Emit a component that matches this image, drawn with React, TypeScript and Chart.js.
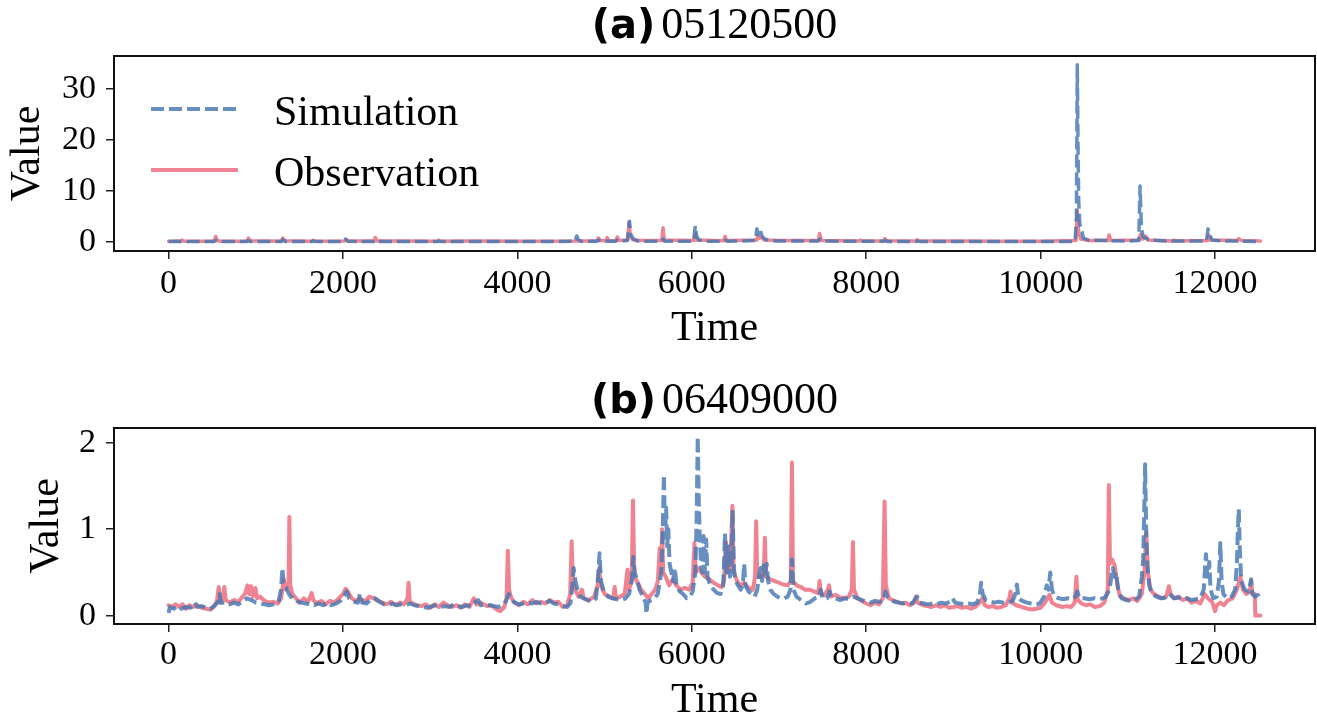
import React, { useEffect, useRef } from "react";
import { Chart, registerables } from "chart.js";

Chart.register(...registerables);

// ---------- Data ----------
const SERIES_LABELS = ["Simulation", "Observation"];
const X_TICKS = [0, 2000, 4000, 6000, 8000, 10000, 12000];
const Y_TICKS_A = [0, 10, 20, 30];
const Y_TICKS_B = [0, 1, 2];
const PANEL_A = ["(a)", "05120500"];
const PANEL_B = ["(b)", "06409000"];

// Panel (a) 05120500
const simATime = [0, 120, 150, 520, 540, 570, 890, 910, 940, 1290, 1310, 1340, 1640, 1660, 1690, 2010, 2030, 2060, 2350, 2370, 2400, 3080, 3100, 3130, 4000, 4660, 4680, 4700, 4740, 4900, 4930, 4960, 5120, 5145, 5170, 5260, 5285, 5300, 5330, 5380, 5650, 5670, 5690, 6020, 6040, 6055, 6080, 6150, 6370, 6385, 6410, 6730, 6745, 6765, 6785, 6810, 6850, 6920, 7000, 7450, 7470, 7500, 8200, 8220, 8250, 8570, 8590, 8620, 9000, 10000, 10395, 10410, 10420, 10428, 10436, 10450, 10470, 10490, 10550, 10780, 10800, 10830, 11000, 11125, 11140, 11155, 11175, 11250, 11500, 11900, 11920, 11940, 11965, 12100, 12260, 12280, 12310, 12520];
const simAValue = [0.1, 0.15, 0.1, 0.1, 0.35, 0.1, 0.1, 0.3, 0.1, 0.1, 0.45, 0.1, 0.1, 0.25, 0.1, 0.1, 0.6, 0.15, 0.1, 0.35, 0.1, 0.1, 0.2, 0.1, 0.12, 0.15, 1.2, 0.4, 0.15, 0.15, 0.4, 0.15, 0.15, 0.4, 0.15, 0.3, 4.1, 1.5, 0.6, 0.2, 0.15, 0.6, 0.15, 0.2, 3.2, 1.2, 0.4, 0.2, 0.15, 0.35, 0.15, 0.3, 2.6, 1.5, 2.3, 1.0, 0.5, 0.3, 0.2, 0.2, 0.6, 0.2, 0.15, 0.3, 0.12, 0.12, 0.25, 0.1, 0.1, 0.1, 0.15, 5.0, 34.8, 20.0, 8.0, 3.5, 2.5, 0.8, 0.4, 0.3, 0.5, 0.25, 0.2, 0.3, 11.0, 3.0, 1.0, 0.4, 0.2, 0.25, 2.6, 1.5, 0.4, 0.2, 0.2, 0.35, 0.2, 0.1];
const obsATime = [0, 140, 155, 175, 520, 540, 560, 600, 900, 915, 935, 1290, 1310, 1335, 1640, 1655, 1680, 2015, 2030, 2055, 2355, 2370, 2390, 2700, 3085, 3100, 3120, 3500, 4000, 4665, 4680, 4700, 4915, 4930, 4950, 5015, 5030, 5050, 5130, 5145, 5165, 5265, 5280, 5295, 5320, 5400, 5655, 5670, 5685, 6025, 6040, 6060, 6365, 6380, 6400, 6745, 6760, 6780, 6800, 6830, 7000, 7450, 7466, 7485, 7915, 7930, 7950, 8200, 8213, 8235, 8570, 8583, 8605, 9000, 9500, 10000, 10405, 10420, 10435, 10460, 10550, 10770, 10785, 10805, 11130, 11146, 11170, 11204, 11230, 11515, 11530, 11550, 11915, 11930, 11950, 12255, 12270, 12300, 12520];
const obsAValue = [0.15, 0.15, 0.4, 0.15, 0.15, 1.1, 0.3, 0.15, 0.15, 0.8, 0.25, 0.15, 0.8, 0.25, 0.15, 0.35, 0.15, 0.2, 0.5, 0.2, 0.2, 0.9, 0.2, 0.2, 0.15, 0.4, 0.15, 0.2, 0.15, 0.2, 0.5, 0.2, 0.2, 0.8, 0.3, 0.25, 0.9, 0.3, 0.25, 1.0, 0.3, 0.4, 3.9, 1.2, 0.5, 0.3, 0.3, 2.8, 0.4, 0.3, 1.6, 0.4, 0.25, 1.1, 0.3, 0.4, 1.4, 0.8, 1.0, 0.4, 0.3, 0.3, 1.7, 0.3, 0.2, 0.4, 0.2, 0.2, 0.7, 0.25, 0.2, 0.45, 0.2, 0.2, 0.15, 0.15, 0.3, 6.2, 2.0, 0.6, 0.3, 0.3, 1.4, 0.3, 0.4, 1.6, 0.6, 1.2, 0.4, 0.2, 0.4, 0.2, 0.3, 1.4, 0.4, 0.3, 0.7, 0.3, 0.2];

// Panel (b) 06409000
const simBTime = [0, 15, 60, 100, 150, 200, 250, 300, 330, 380, 430, 480, 530, 570, 585, 600, 650, 700, 750, 800, 850, 900, 950, 1000, 1050, 1100, 1150, 1200, 1260, 1290, 1305, 1320, 1350, 1380, 1420, 1470, 1520, 1570, 1620, 1670, 1720, 1770, 1820, 1870, 1920, 1970, 2020, 2045, 2070, 2120, 2170, 2195, 2220, 2270, 2330, 2370, 2420, 2470, 2520, 2570, 2620, 2670, 2720, 2770, 2820, 2870, 2920, 2970, 3020, 3070, 3120, 3170, 3220, 3270, 3320, 3370, 3420, 3470, 3520, 3550, 3580, 3630, 3680, 3730, 3780, 3830, 3870, 3900, 3930, 3970, 4020, 4070, 4120, 4170, 4220, 4270, 4320, 4370, 4420, 4470, 4520, 4570, 4610, 4630, 4645, 4665, 4690, 4720, 4760, 4800, 4850, 4900, 4925, 4942, 4958, 4990, 5040, 5090, 5140, 5190, 5240, 5280, 5310, 5330, 5345, 5370, 5400, 5440, 5470, 5480, 5492, 5530, 5570, 5610, 5650, 5665, 5680, 5692, 5705, 5718, 5730, 5745, 5765, 5785, 5805, 5825, 5860, 5900, 5940, 5980, 6010, 6040, 6055, 6068, 6080, 6092, 6105, 6120, 6135, 6148, 6165, 6180, 6210, 6250, 6290, 6330, 6360, 6380, 6395, 6410, 6422, 6438, 6455, 6468, 6482, 6500, 6530, 6560, 6585, 6600, 6615, 6650, 6690, 6720, 6750, 6770, 6788, 6805, 6822, 6838, 6858, 6875, 6900, 6940, 6980, 7020, 7060, 7100, 7130, 7148, 7165, 7200, 7250, 7310, 7360, 7410, 7460, 7478, 7500, 7550, 7580, 7600, 7650, 7700, 7750, 7800, 7850, 7900, 7950, 8000, 8050, 8100, 8150, 8200, 8220, 8240, 8280, 8330, 8380, 8430, 8480, 8530, 8565, 8585, 8610, 8660, 8710, 8760, 8810, 8860, 8910, 8960, 8990, 9020, 9070, 9120, 9170, 9220, 9270, 9300, 9318, 9335, 9370, 9420, 9470, 9520, 9570, 9620, 9680, 9710, 9727, 9745, 9790, 9840, 9890, 9940, 9990, 10040, 10070, 10090, 10110, 10130, 10160, 10210, 10260, 10310, 10360, 10400, 10420, 10445, 10500, 10560, 10620, 10680, 10740, 10790, 10810, 10828, 10845, 10865, 10890, 10930, 10980, 11030, 11080, 11130, 11160, 11175, 11188, 11198, 11210, 11222, 11245, 11280, 11330, 11380, 11430, 11480, 11530, 11580, 11630, 11680, 11730, 11780, 11830, 11870, 11885, 11896, 11910, 11922, 11934, 11948, 11980, 12020, 12045, 12060, 12075, 12095, 12140, 12190, 12230, 12250, 12262, 12272, 12283, 12300, 12340, 12380, 12400, 12413, 12428, 12460, 12490, 12520];
const simBValue = [0.03, 0.1, 0.08, 0.11, 0.08, 0.1, 0.09, 0.15, 0.1, 0.11, 0.09, 0.08, 0.12, 0.16, 0.25, 0.15, 0.15, 0.13, 0.15, 0.13, 0.17, 0.2, 0.18, 0.15, 0.14, 0.13, 0.12, 0.13, 0.16, 0.3, 0.55, 0.35, 0.32, 0.25, 0.2, 0.17, 0.15, 0.14, 0.13, 0.12, 0.14, 0.12, 0.15, 0.12, 0.14, 0.17, 0.24, 0.28, 0.2, 0.16, 0.15, 0.25, 0.15, 0.14, 0.2, 0.2, 0.16, 0.13, 0.12, 0.14, 0.12, 0.13, 0.12, 0.14, 0.12, 0.11, 0.1, 0.09, 0.11, 0.12, 0.1, 0.11, 0.1, 0.13, 0.11, 0.1, 0.12, 0.11, 0.16, 0.18, 0.12, 0.13, 0.12, 0.11, 0.1, 0.12, 0.17, 0.25, 0.18, 0.15, 0.13, 0.14, 0.15, 0.14, 0.16, 0.14, 0.15, 0.17, 0.14, 0.13, 0.11, 0.1, 0.15, 0.35, 0.55, 0.4, 0.3, 0.22, 0.2, 0.18, 0.16, 0.2, 0.45, 0.72, 0.4, 0.28, 0.22, 0.2, 0.19, 0.18, 0.2, 0.25, 0.4, 0.68, 0.5, 0.42, 0.3, 0.22, 0.15, 0.02, 0.15, 0.18, 0.2, 0.25, 0.5, 0.9, 1.63, 0.9, 1.25, 0.8, 1.0, 0.6, 0.5, 0.4, 0.55, 0.35, 0.28, 0.25, 0.2, 0.22, 0.28, 0.5, 1.1, 2.07, 1.3, 0.9, 0.6, 0.5, 0.92, 0.5, 0.88, 0.45, 0.35, 0.3, 0.26, 0.25, 0.35, 0.95, 0.5, 0.6, 0.8, 0.45, 0.6, 1.22, 0.55, 0.4, 0.35, 0.3, 0.35, 0.6, 0.35, 0.28, 0.25, 0.22, 0.3, 0.45, 0.55, 0.4, 0.58, 0.45, 0.6, 0.4, 0.3, 0.25, 0.22, 0.2, 0.2, 0.22, 0.3, 0.65, 0.3, 0.22, 0.18, 0.14, 0.16, 0.2, 0.22, 0.3, 0.2, 0.2, 0.28, 0.22, 0.2, 0.18, 0.2, 0.19, 0.22, 0.2, 0.18, 0.16, 0.15, 0.17, 0.16, 0.18, 0.28, 0.22, 0.18, 0.16, 0.15, 0.14, 0.15, 0.14, 0.2, 0.22, 0.15, 0.14, 0.13, 0.14, 0.13, 0.15, 0.14, 0.16, 0.2, 0.15, 0.14, 0.13, 0.14, 0.13, 0.15, 0.22, 0.38, 0.25, 0.18, 0.16, 0.15, 0.16, 0.15, 0.15, 0.17, 0.25, 0.36, 0.2, 0.17, 0.15, 0.14, 0.13, 0.14, 0.22, 0.35, 0.3, 0.5, 0.3, 0.22, 0.2, 0.19, 0.2, 0.19, 0.22, 0.28, 0.2, 0.2, 0.19, 0.2, 0.19, 0.21, 0.3, 0.45, 0.55, 0.45, 0.5, 0.3, 0.2, 0.18, 0.17, 0.18, 0.22, 0.45, 0.65, 1.2, 1.75, 1.0, 0.6, 0.35, 0.25, 0.22, 0.2, 0.21, 0.25, 0.2, 0.21, 0.19, 0.2, 0.18, 0.19, 0.2, 0.3, 0.55, 0.71, 0.45, 0.5, 0.62, 0.3, 0.2, 0.22, 0.4, 0.84, 0.4, 0.25, 0.2, 0.22, 0.3, 0.6, 1.0, 1.23, 0.8, 0.4, 0.3, 0.28, 0.35, 0.42, 0.25, 0.22, 0.24, 0.2];
const obsBTime = [0, 40, 80, 120, 160, 200, 240, 280, 330, 380, 430, 480, 520, 555, 575, 590, 620, 640, 655, 700, 750, 800, 850, 880, 905, 925, 945, 965, 995, 1015, 1050, 1100, 1150, 1200, 1250, 1290, 1320, 1345, 1375, 1385, 1395, 1420, 1460, 1500, 1550, 1600, 1640, 1660, 1700, 1750, 1800, 1850, 1900, 1950, 2000, 2030, 2060, 2100, 2150, 2200, 2250, 2300, 2350, 2400, 2450, 2500, 2550, 2600, 2650, 2700, 2740, 2752, 2765, 2800, 2850, 2900, 2950, 3000, 3050, 3100, 3150, 3200, 3250, 3300, 3350, 3400, 3450, 3500, 3530, 3580, 3650, 3700, 3750, 3800, 3850, 3875, 3890, 3905, 3930, 3970, 4020, 4070, 4120, 4170, 4220, 4270, 4320, 4370, 4420, 4470, 4520, 4570, 4605, 4622, 4635, 4670, 4700, 4740, 4760, 4820, 4880, 4920, 4937, 4955, 5000, 5050, 5100, 5115, 5130, 5180, 5230, 5262, 5280, 5310, 5325, 5340, 5380, 5420, 5460, 5500, 5540, 5580, 5610, 5632, 5645, 5660, 5672, 5700, 5740, 5780, 5820, 5870, 5920, 5970, 6010, 6030, 6045, 6080, 6110, 6150, 6200, 6250, 6300, 6340, 6370, 6392, 6405, 6440, 6465, 6480, 6520, 6560, 6600, 6640, 6700, 6725, 6738, 6750, 6790, 6825, 6838, 6850, 6900, 6950, 7000, 7050, 7100, 7135, 7148, 7160, 7200, 7250, 7300, 7350, 7400, 7450, 7465, 7480, 7520, 7560, 7573, 7590, 7650, 7700, 7750, 7800, 7835, 7847, 7860, 7900, 7950, 8000, 8050, 8100, 8150, 8190, 8210, 8225, 8260, 8300, 8350, 8400, 8450, 8500, 8550, 8570, 8590, 8650, 8700, 8750, 8800, 8850, 8900, 8950, 9000, 9050, 9100, 9150, 9200, 9250, 9300, 9330, 9360, 9400, 9450, 9500, 9550, 9600, 9640, 9655, 9670, 9720, 9780, 9850, 9900, 9950, 10000, 10050, 10100, 10130, 10180, 10250, 10300, 10350, 10390, 10410, 10425, 10470, 10520, 10570, 10620, 10680, 10730, 10770, 10782, 10795, 10820, 10850, 10880, 10910, 10960, 11010, 11060, 11110, 11160, 11190, 11210, 11230, 11260, 11300, 11350, 11400, 11440, 11470, 11490, 11530, 11580, 11630, 11680, 11730, 11780, 11830, 11880, 11920, 11970, 12000, 12020, 12060, 12100, 12150, 12200, 12250, 12290, 12320, 12360, 12400, 12413, 12430, 12455, 12462, 12520];
const obsBValue = [0.12, 0.1, 0.13, 0.1, 0.13, 0.08, 0.12, 0.1, 0.12, 0.09, 0.08, 0.07, 0.1, 0.17, 0.33, 0.15, 0.2, 0.33, 0.18, 0.15, 0.18, 0.16, 0.22, 0.26, 0.35, 0.25, 0.34, 0.22, 0.32, 0.2, 0.22, 0.17, 0.15, 0.16, 0.14, 0.2, 0.42, 0.3, 0.35, 1.14, 0.35, 0.25, 0.2, 0.15, 0.2, 0.16, 0.26, 0.18, 0.14, 0.17, 0.13, 0.17, 0.15, 0.2, 0.25, 0.31, 0.27, 0.2, 0.17, 0.2, 0.16, 0.22, 0.2, 0.17, 0.15, 0.13, 0.16, 0.12, 0.15, 0.13, 0.2, 0.38, 0.16, 0.14, 0.12, 0.11, 0.13, 0.09, 0.13, 0.1, 0.15, 0.12, 0.1, 0.12, 0.09, 0.13, 0.1, 0.2, 0.13, 0.15, 0.11, 0.12, 0.08, 0.05, 0.1, 0.2, 0.75, 0.3, 0.2, 0.15, 0.12, 0.16, 0.13, 0.18, 0.14, 0.16, 0.14, 0.18, 0.15, 0.16, 0.1, 0.12, 0.25, 0.86, 0.4, 0.28, 0.22, 0.3, 0.2, 0.18, 0.22, 0.35, 0.55, 0.35, 0.25, 0.22, 0.2, 0.33, 0.2, 0.22, 0.25, 0.53, 0.3, 0.4, 1.33, 0.45, 0.38, 0.3, 0.25, 0.2, 0.25, 0.3, 0.4, 0.78, 0.5, 1.0, 0.5, 0.45, 0.35, 0.42, 0.35, 0.3, 0.32, 0.3, 0.38, 0.84, 0.5, 0.55, 0.5, 0.45, 0.42, 0.38, 0.35, 0.33, 0.4, 0.85, 0.5, 0.55, 1.27, 0.5, 0.4, 0.35, 0.38, 0.33, 0.3, 0.45, 1.09, 0.45, 0.45, 0.5, 0.9, 0.45, 0.42, 0.4, 0.38, 0.36, 0.35, 0.4, 1.77, 0.4, 0.35, 0.33, 0.3, 0.3, 0.28, 0.26, 0.4, 0.25, 0.24, 0.3, 0.35, 0.22, 0.24, 0.21, 0.2, 0.22, 0.3, 0.85, 0.3, 0.2, 0.17, 0.14, 0.12, 0.15, 0.13, 0.2, 1.32, 0.35, 0.2, 0.18, 0.16, 0.14, 0.15, 0.12, 0.15, 0.22, 0.15, 0.12, 0.11, 0.1, 0.12, 0.1, 0.12, 0.09, 0.1, 0.11, 0.09, 0.1, 0.08, 0.1, 0.15, 0.2, 0.12, 0.1, 0.11, 0.09, 0.1, 0.12, 0.2, 0.28, 0.15, 0.12, 0.1, 0.08, 0.07, 0.08, 0.09, 0.15, 0.24, 0.15, 0.12, 0.1, 0.11, 0.1, 0.15, 0.45, 0.18, 0.14, 0.12, 0.13, 0.1, 0.11, 0.15, 0.3, 1.51, 0.6, 0.65, 0.58, 0.35, 0.22, 0.2, 0.18, 0.2, 0.17, 0.25, 0.5, 0.96, 0.5, 0.3, 0.25, 0.22, 0.2, 0.22, 0.34, 0.25, 0.2, 0.22, 0.18, 0.2, 0.15, 0.17, 0.14, 0.25, 0.2, 0.15, 0.05, 0.12, 0.15, 0.12, 0.18, 0.2, 0.3, 0.45, 0.3, 0.25, 0.28, 0.4, 0.25, 0.25, 0.0, 0.0];

// ---------- Styling ----------
const SERIF = "'Liberation Serif', 'Times New Roman', serif";
const SANS = "'DejaVu Sans', sans-serif";
const SIM_COLOR = "rgba(70,120,178,0.82)";
const OBS_COLOR = "rgba(236,100,118,0.8)";
const SIM_DASH = [13, 5];

const framePlugin = {
  id: "frame",
  afterDatasetsDraw(chart: any) {
    const { ctx, chartArea } = chart;
    const { left, top, right, bottom } = chartArea;
    ctx.save();
    ctx.strokeStyle = "#111";
    ctx.lineWidth = 2;
    ctx.strokeRect(left, top, right - left, bottom - top);
    ctx.restore();
  },
};

const panelTitlePlugin = {
  id: "panelTitle",
  afterDraw(chart: any, _args: any, opts: any) {
    const { ctx, chartArea } = chart;
    const cx = (chartArea.left + chartArea.right) / 2;
    const y = chartArea.top - opts.gap;
    ctx.save();
    ctx.fillStyle = "#000";
    ctx.textBaseline = "alphabetic";
    ctx.textAlign = "left";
    ctx.font = `bold 40px ${SANS}`;
    const w1 = ctx.measureText(opts.bold).width;
    ctx.font = `44px ${SERIF}`;
    const w2 = ctx.measureText(opts.text).width;
    const space = 6;
    const x0 = cx - (w1 + space + w2) / 2;
    ctx.font = `bold 40px ${SANS}`;
    ctx.fillText(opts.bold, x0, y);
    ctx.font = `44px ${SERIF}`;
    ctx.fillText(opts.text, x0 + w1 + space, y);
    ctx.restore();
  },
};

const legendPlugin = {
  id: "customLegend",
  afterDraw(chart: any, _args: any, opts: any) {
    if (!opts.show) return;
    const { ctx, chartArea } = chart;
    ctx.save();
    chart.data.datasets.forEach((ds: any, i: number) => {
      const ly = chartArea.top + 53 + i * 61;
      const lx = chartArea.left + 37;
      ctx.strokeStyle = ds.borderColor;
      ctx.lineWidth = 4;
      ctx.setLineDash(ds.borderDash || []);
      ctx.beginPath();
      ctx.moveTo(lx, ly);
      ctx.lineTo(lx + 87, ly);
      ctx.stroke();
      ctx.setLineDash([]);
      ctx.fillStyle = "#000";
      ctx.font = `42px ${SERIF}`;
      ctx.textBaseline = "alphabetic";
      ctx.textAlign = "left";
      ctx.fillText(ds.label, lx + 123, ly + 16);
    });
    ctx.restore();
  },
};

function toPoints(t: number[], v: number[]) {
  return t.map((x, i) => ({ x, y: v[i] }));
}

type PanelCfg = {
  simT: number[];
  simV: number[];
  obsT: number[];
  obsV: number[];
  yTicks: number[];
  yMin: number;
  yMax: number;
  title: string[];
  titleGap: number;
  padTop: number;
  xAxisHeight: number;
  xTickPad: number;
  xTitlePad: number;
  yTitlePad: number;
  lineWidth: number;
  legend: boolean;
};

function makeConfig(p: PanelCfg): any {
  return {
    type: "line",
    data: {
      datasets: [
        {
          label: SERIES_LABELS[0],
          data: toPoints(p.simT, p.simV),
          borderColor: SIM_COLOR,
          borderDash: SIM_DASH,
          borderWidth: p.lineWidth,
          borderJoinStyle: "round",
          borderCapStyle: "butt",
          pointRadius: 0,
          tension: 0,
          fill: false,
        },
        {
          label: SERIES_LABELS[1],
          data: toPoints(p.obsT, p.obsV),
          borderColor: OBS_COLOR,
          borderWidth: p.lineWidth,
          borderJoinStyle: "round",
          borderCapStyle: "round",
          pointRadius: 0,
          tension: 0,
          fill: false,
        },
      ],
    },
    options: {
      responsive: false,
      animation: false,
      events: [],
      devicePixelRatio: 1,
      layout: { padding: { top: p.padTop, right: 2, left: 0, bottom: 0 } },
      plugins: {
        legend: { display: false },
        tooltip: { enabled: false },
        title: { display: false },
        panelTitle: { bold: p.title[0], text: p.title[1], gap: p.titleGap },
        customLegend: { show: p.legend },
      },
      scales: {
        x: {
          type: "linear",
          min: -626,
          max: 13146,
          afterBuildTicks: (s: any) => {
            s.ticks = X_TICKS.map((v) => ({ value: v }));
          },
          afterFit: (s: any) => {
            s.height = p.xAxisHeight;
          },
          grid: {
            display: true,
            drawOnChartArea: false,
            drawTicks: true,
            tickLength: 8,
            color: "#222",
            lineWidth: 1.5,
          },
          border: { display: false },
          ticks: {
            autoSkip: false,
            maxRotation: 0,
            minRotation: 0,
            padding: p.xTickPad,
            color: "#000",
            font: { family: SERIF, size: 34, lineHeight: 1 },
            callback: (v: any) => String(v),
          },
          title: {
            display: true,
            text: "Time",
            color: "#000",
            font: { family: SERIF, size: 42, lineHeight: 1 },
            padding: { top: 0, bottom: p.xTitlePad },
          },
        },
        y: {
          type: "linear",
          min: p.yMin,
          max: p.yMax,
          afterBuildTicks: (s: any) => {
            s.ticks = p.yTicks.map((v) => ({ value: v }));
          },
          afterFit: (s: any) => {
            s.width = 114;
          },
          grid: {
            display: true,
            drawOnChartArea: false,
            drawTicks: true,
            tickLength: 8,
            color: "#222",
            lineWidth: 1.5,
          },
          border: { display: false },
          ticks: {
            autoSkip: false,
            padding: 10,
            color: "#000",
            font: { family: SERIF, size: 34, lineHeight: 1 },
            callback: (v: any) => String(v),
          },
          title: {
            display: true,
            text: "Value",
            color: "#000",
            font: { family: SERIF, size: 42, lineHeight: 1 },
            padding: { top: p.yTitlePad, bottom: 0 },
          },
        },
      },
    },
    plugins: [framePlugin, panelTitlePlugin, legendPlugin],
  };
}

const PANELS: PanelCfg[] = [
  {
    simT: simATime,
    simV: simAValue,
    obsT: obsATime,
    obsV: obsAValue,
    yTicks: Y_TICKS_A,
    yMin: -1.74,
    yMax: 36.5,
    title: PANEL_A,
    titleGap: 18,
    padTop: 56,
    xAxisHeight: 109,
    xTickPad: 8,
    xTitlePad: 10,
    yTitlePad: 7,
    lineWidth: 3.5,
    legend: true,
  },
  {
    simT: simBTime,
    simV: simBValue,
    obsT: obsBTime,
    obsV: obsBValue,
    yTicks: Y_TICKS_B,
    yMin: -0.097,
    yMax: 2.17,
    title: PANEL_B,
    titleGap: 15,
    padTop: 68,
    xAxisHeight: 96,
    xTickPad: 6,
    xTitlePad: -2,
    yTitlePad: 26,
    lineWidth: 4,
    legend: false,
  },
];

function Panel({ cfg, top }: { cfg: PanelCfg; top: number }) {
  const ref = useRef<HTMLCanvasElement | null>(null);
  useEffect(() => {
    if (!ref.current) return;
    const chart = new Chart(ref.current, makeConfig(cfg));
    return () => chart.destroy();
  }, [cfg]);
  return (
    <canvas
      ref={ref}
      width={1317}
      height={360}
      style={{ position: "absolute", left: 0, top, width: 1317, height: 360, display: "block" }}
    />
  );
}

export default function App() {
  return (
    <div style={{ position: "absolute", left: 0, top: 0, width: 1317, height: 720, background: "#fff" }}>
      <Panel cfg={PANELS[0]} top={0} />
      <Panel cfg={PANELS[1]} top={360} />
    </div>
  );
}
